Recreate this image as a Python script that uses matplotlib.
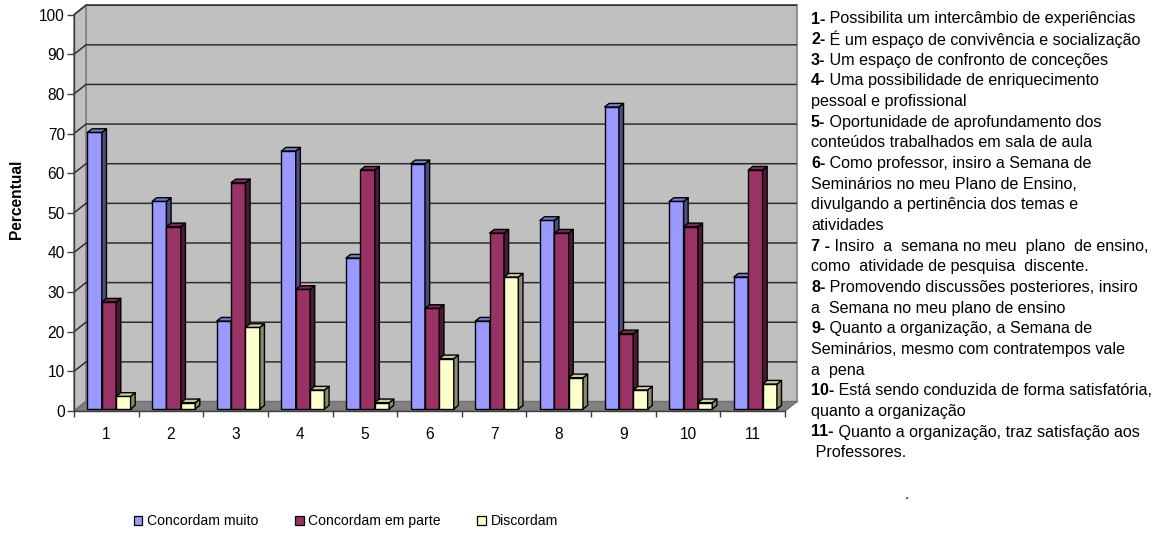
import matplotlib
matplotlib.use("Agg")
import matplotlib.pyplot as plt
from matplotlib.patches import Patch, Polygon
from matplotlib.collections import PolyCollection

plt.rcParams['font.family'] = ['Liberation Sans', 'DejaVu Sans']

# ---- data -------------------------------------------------------------
categories = ['1', '2', '3', '4', '5', '6', '7', '8', '9', '10', '11']
concordam_muito = [69.8, 52.4, 22.2, 65.1, 38.1, 61.9, 22.2, 47.6, 76.2, 52.4, 33.3]
concordam_em_parte = [27.0, 46.0, 57.1, 30.2, 60.3, 25.4, 44.4, 44.4, 19.0, 46.0, 60.3]
discordam = [3.2, 1.6, 20.6, 4.8, 1.6, 12.7, 33.3, 7.9, 4.8, 1.6, 6.3]
series_names = ['Concordam muito', 'Concordam em parte', 'Discordam']
y_ticks = list(range(0, 101, 10))

descriptions = [
    ('1-', ' Possibilita um intercâmbio de experiências'),
    ('2-', ' É um espaço de convivência e socialização'),
    ('3-', ' Um espaço de confronto de conceções'),
    ('4-', ' Uma possibilidade de enriquecimento'),
    ('', 'pessoal e profissional'),
    ('5-', ' Oportunidade de aprofundamento dos'),
    ('', 'conteúdos trabalhados em sala de aula'),
    ('6-', ' Como professor, insiro a Semana de'),
    ('', 'Seminários no meu Plano de Ensino,'),
    ('', 'divulgando a pertinência dos temas e'),
    ('', 'atividades'),
    ('7 -', ' Insiro  a  semana no meu  plano  de ensino,'),
    ('', 'como  atividade de pesquisa  discente.'),
    ('8-', ' Promovendo discussões posteriores, insiro'),
    ('', 'a  Semana no meu plano de ensino'),
    ('9-', ' Quanto a organização, a Semana de'),
    ('', 'Seminários, mesmo com contratempos vale'),
    ('', 'a  pena'),
    ('10-', ' Está sendo conduzida de forma satisfatória,'),
    ('', 'quanto a organização'),
    ('11-', ' Quanto a organização, traz satisfação aos'),
    ('', ' Professores.'),
]

# ---- style ------------------------------------------------------------
front_colors = ['#9999FF', '#993366', '#FFFFCC']
side_colors = ['#4D4D80', '#4D1A33', '#8A8A6E']
top_colors = ['#7A7ACC', '#7A2952', '#CCCCA3']
wall_color = '#C0C0C0'
floor_color = '#808080'
grid_color = '#2E2E2E'

W, H = 1164, 535
fig = plt.figure(figsize=(W / 100, H / 100), dpi=100)
fig.patch.set_facecolor('white')

ax_left, ax_right, ax_top, ax_bottom = 74, 785, 14.7, 411
ax = fig.add_axes([ax_left / W, (H - ax_bottom) / H,
                   (ax_right - ax_left) / W, (ax_bottom - ax_top) / H])
n = len(categories)
ax.set_xlim(0, n)
ax.set_ylim(0, 100)
ax.patch.set_visible(False)

ux = (ax_right - ax_left) / n        # pixels per category
uy = (ax_bottom - ax_top) / 100.0     # pixels per percent

# depth of the 3D box (back wall offset)
DX, DY = 12 / ux, 9.5 / uy
# bars sit slightly behind the front plane and have a small depth of their own
SX, SY = 2.7 / ux, 2.0 / uy
BDX, BDY = 4.6 / ux, 3.6 / uy

# walls and floor
back_wall = Polygon([(DX, DY), (n + DX, DY), (n + DX, 100 + DY), (DX, 100 + DY)],
                    closed=True, facecolor=wall_color, edgecolor='#808080',
                    lw=1.2, zorder=0, clip_on=False)
side_wall = Polygon([(0, 0), (DX, DY), (DX, 100 + DY), (0, 100)],
                    closed=True, facecolor=wall_color, edgecolor='#808080',
                    lw=1.2, zorder=0.5, clip_on=False)
floor = Polygon([(0, 0), (n, 0), (n + DX, DY), (DX, DY)],
                closed=True, facecolor=floor_color, edgecolor='#707070',
                lw=1.0, zorder=0.5, clip_on=False)
for p in (back_wall, side_wall, floor):
    ax.add_patch(p)

for v in y_ticks[1:]:
    ax.plot([0, DX, n + DX], [v, v + DY, v + DY], color=grid_color,
            lw=1.1, zorder=1, clip_on=False, solid_capstyle='butt')

# bars
series = [concordam_muito, concordam_em_parte, discordam]
bw = 1 / 4.5
gap = (1 - 3 * bw) / 2
for k, vals in enumerate(series):
    xs = [i + gap + k * bw + SX for i in range(n)]
    ax.bar(xs, vals, width=bw, bottom=SY, align='edge',
           color=front_colors[k], edgecolor='black', lw=1.0,
           zorder=3 + k, clip_on=False)
    sides, tops = [], []
    for x, v in zip(xs, vals):
        y0, y1 = SY, SY + v
        sides.append([(x + bw, y0), (x + bw, y1),
                      (x + bw + BDX, y1 + BDY), (x + bw + BDX, y0 + BDY)])
        tops.append([(x, y1), (x + bw, y1),
                     (x + bw + BDX, y1 + BDY), (x + BDX, y1 + BDY)])
    ax.add_collection(PolyCollection(sides, facecolors=side_colors[k],
                                     edgecolors='black', linewidths=1.0,
                                     zorder=3 + k, clip_on=False))
    ax.add_collection(PolyCollection(tops, facecolors=top_colors[k],
                                     edgecolors='black', linewidths=1.0,
                                     zorder=3 + k, clip_on=False))

# axes, ticks and labels
for s in ('top', 'right'):
    ax.spines[s].set_visible(False)
for s in ('left', 'bottom'):
    ax.spines[s].set_color('#404040')
    ax.spines[s].set_linewidth(1.0)
    ax.spines[s].set_zorder(2)

ax.set_yticks(y_ticks)
ax.set_yticklabels([str(v) for v in y_ticks])
ax.tick_params(axis='y', direction='out', length=5, width=1.0,
               color='#404040', pad=1.5, labelsize=11.2)

ax.set_xticks(range(n + 1))
ax.set_xticklabels([])
ax.set_xticks([i + 0.5 for i in range(n)], minor=True)
ax.set_xticklabels(categories, minor=True)
ax.tick_params(axis='x', which='major', direction='out', length=4.3,
               width=1.0, color='#404040')
ax.tick_params(axis='x', which='minor', length=0, pad=11.3, labelsize=11.2)

fig.text(16.5 / W, 1 - 199 / H, 'Percentual', rotation=90, ha='center',
         va='center', fontsize=11.2, fontweight='bold')

# legend
handles = [Patch(facecolor=c, edgecolor='black', lw=0.9) for c in front_colors]
fig.legend(handles, series_names, loc='center left',
           bbox_to_anchor=(134 / W, 1 - 521 / H), ncol=3, frameon=False,
           fontsize=10.1, handlelength=0.6, handleheight=0.6,
           handletextpad=0.35, columnspacing=2.6, borderpad=0,
           borderaxespad=0)

# numbered descriptions on the right
renderer = fig.canvas.get_renderer()
x0 = 811
line_y0, line_step = 19, 20.65
fs = 11.6
for j, (num, txt) in enumerate(descriptions):
    y = 1 - (line_y0 + j * line_step) / H
    xt = x0
    if num:
        t = fig.text(x0 / W, y, num, fontsize=fs, fontweight='bold',
                     ha='left', va='center')
        xt = t.get_window_extent(renderer).x1
    fig.text(xt / W, y, txt, fontsize=fs, ha='left', va='center')

fig.text(907 / W, 1 - 495 / H, '.', fontsize=11, ha='center', va='center')

fig.savefig('out.png', dpi=100, facecolor='white')
